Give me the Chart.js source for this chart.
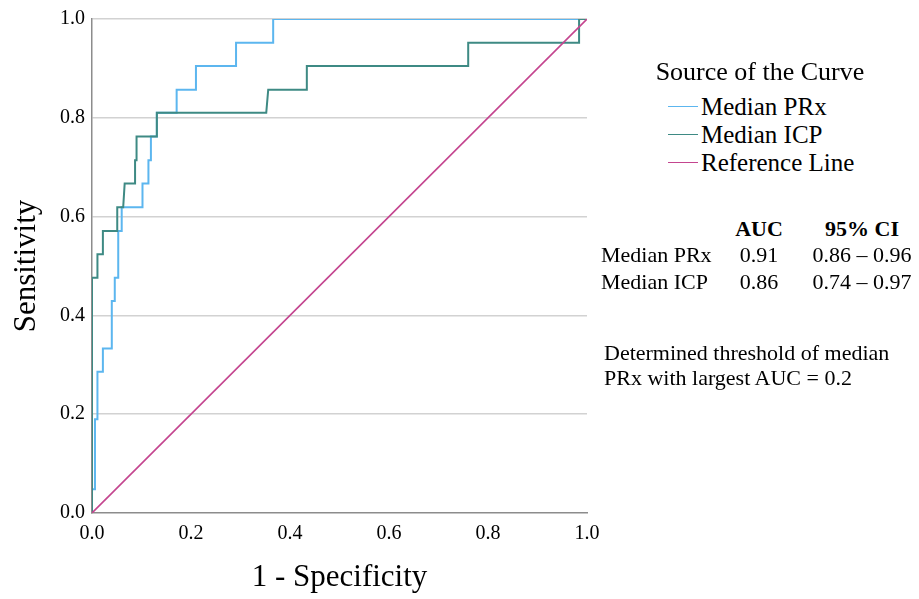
<!DOCTYPE html>
<html>
<head>
<meta charset="utf-8">
<script src="https://cdn.jsdelivr.net/npm/chart.js@4"></script>
<style>
  body { margin: 0; background: #fff; font-family: 'Liberation Serif', 'Times New Roman', serif; color: #000; }
  #wrap { position: relative; width: 919px; height: 599px; overflow: hidden; }
  #roc { position: absolute; left: 0; top: 0; }
  .txt { position: absolute; white-space: nowrap; }
  .legend-title { left: 560px; width: 400px; top: 57px; font-size: 26px; line-height: 30px; text-align: center; }
  .legend-item { left: 668px; font-size: 25px; line-height: 28px; }
  .legend-item span.swatch { display: inline-block; width: 30px; height: 0; vertical-align: middle; margin-right: 3px; position: relative; top: -3px; }
  .tbl { font-size: 22px; line-height: 27px; }
  .tbl.bold { font-weight: bold; }
  .note { left: 604px; font-size: 22px; line-height: 25px; }
</style>
</head>
<body>
<div id="wrap">
  <canvas id="roc" width="620" height="599"></canvas>
  <div id="legend"></div>
  <div id="stats"></div>
</div>
<script>
// ROC corner points (1 - specificity, sensitivity)
const prxFpr = [0, 0, 0.006, 0.006, 0.011, 0.011, 0.022, 0.022, 0.040, 0.040, 0.046, 0.046, 0.053, 0.053, 0.060, 0.060,
  0.102, 0.102, 0.114, 0.114, 0.119, 0.119, 0.131, 0.131, 0.171, 0.171, 0.210, 0.210, 0.291, 0.291, 0.366, 0.366, 1];
const prxTpr = [0, 0.048, 0.048, 0.190, 0.190, 0.286, 0.286, 0.333, 0.333, 0.429, 0.429, 0.476, 0.476, 0.571, 0.571, 0.619,
  0.619, 0.667, 0.667, 0.714, 0.714, 0.762, 0.762, 0.810, 0.810, 0.857, 0.857, 0.905, 0.905, 0.952, 0.952, 1, 1];

const icpFpr = [0, 0, 0.011, 0.011, 0.022, 0.022, 0.051, 0.051, 0.063, 0.066, 0.087, 0.087, 0.090, 0.090, 0.131, 0.131,
  0.352, 0.356, 0.434, 0.434, 0.760, 0.760, 0.984, 0.984, 1];
const icpTpr = [0, 0.476, 0.476, 0.524, 0.524, 0.571, 0.571, 0.619, 0.619, 0.667, 0.667, 0.714, 0.714, 0.762, 0.762, 0.810,
  0.810, 0.857, 0.857, 0.905, 0.905, 0.952, 0.952, 1, 1];

const refFpr = [0, 1];
const refTpr = [0, 1];

const tickValues = [0, 0.2, 0.4, 0.6, 0.8, 1.0];

const seriesNames = ['Median PRx', 'Median ICP', 'Reference Line'];
const seriesColors = ['#5cb6ef', '#3e8a84', '#c4458f'];

const statHeader = ['AUC', '95% CI'];
const statRows = [
  ['Median PRx', '0.91', '0.86 \u2013 0.96'],
  ['Median ICP', '0.86', '0.74 \u2013 0.97']
];
const noteLines = ['Determined threshold of median', 'PRx with largest AUC = 0.2'];

function toPoints(xs, ys) {
  return xs.map((x, i) => ({ x: x, y: ys[i] }));
}

Chart.defaults.font.family = "'Liberation Serif', 'Times New Roman', serif";
Chart.defaults.color = '#000';

const ctx = document.getElementById('roc').getContext('2d');
const chart = new Chart(ctx, {
  type: 'scatter',
  data: {
    datasets: [
      { label: seriesNames[0], data: toPoints(prxFpr, prxTpr), borderColor: seriesColors[0], borderWidth: 2, order: 3 },
      { label: seriesNames[1], data: toPoints(icpFpr, icpTpr), borderColor: seriesColors[1], borderWidth: 2, order: 2 },
      { label: seriesNames[2], data: toPoints(refFpr, refTpr), borderColor: seriesColors[2], borderWidth: 1.6, order: 1 }
    ].map(d => Object.assign(d, { showLine: true, pointRadius: 0, tension: 0, fill: false }))
  },
  options: {
    responsive: false,
    animation: false,
    layout: { padding: { left: 0, right: 33, top: 17, bottom: 0 } },
    plugins: { legend: { display: false }, tooltip: { enabled: false } },
    scales: {
      x: {
        type: 'linear', min: 0, max: 1,
        afterBuildTicks: s => { s.ticks = tickValues.map(v => ({ value: v })); },
        afterFit: s => { s.height = 86; },
        grid: { display: false, drawTicks: false },
        border: { display: true, color: '#8c8c8c', width: 1.5 },
        ticks: { padding: 9, font: { size: 20 }, callback: v => v.toFixed(1), maxRotation: 0 },
        title: { display: true, text: '1 - Specificity', font: { size: 31 }, padding: { top: 0, bottom: 3 } }
      },
      y: {
        type: 'linear', min: 0, max: 1,
        afterBuildTicks: s => { s.ticks = tickValues.map(v => ({ value: v })); },
        afterFit: s => { s.width = 92; },
        grid: { color: ctx => ctx.tick.value === 0 ? 'rgba(0,0,0,0)' : '#d2d2d2', lineWidth: 1.5, drawTicks: false },
        border: { display: true, color: '#8c8c8c', width: 1.5 },
        ticks: { padding: 7, font: { size: 20 }, callback: v => v.toFixed(1) },
        title: { display: true, text: 'Sensitivity', font: { size: 31 }, padding: { top: 8, bottom: 0 } }
      }
    }
  }
});

// legend built from the chart's datasets
const legend = document.getElementById('legend');
let html = '<div class="txt legend-title">Source of the Curve</div>';
chart.data.datasets.forEach((d, i) => {
  html += '<div class="txt legend-item" style="top:' + (93 + i * 28) + 'px"><span class="swatch" style="border-top:1.6px solid ' +
    d.borderColor + '"></span>' + d.label + '</div>';
});
legend.innerHTML = html;

// AUC table and threshold note
const stats = document.getElementById('stats');
let s = '';
s += '<div class="txt tbl bold" style="top:215px;left:719px;width:80px;text-align:center">' + statHeader[0] + '</div>';
s += '<div class="txt tbl bold" style="top:215px;left:792px;width:140px;text-align:center">' + statHeader[1] + '</div>';
statRows.forEach((r, i) => {
  const top = 241 + i * 27;
  s += '<div class="txt tbl" style="top:' + top + 'px;left:601px">' + r[0] + '</div>';
  s += '<div class="txt tbl" style="top:' + top + 'px;left:719px;width:80px;text-align:center">' + r[1] + '</div>';
  s += '<div class="txt tbl" style="top:' + top + 'px;left:792px;width:140px;text-align:center">' + r[2] + '</div>';
});
noteLines.forEach((t, i) => {
  s += '<div class="txt note" style="top:' + (340 + i * 25) + 'px">' + t + '</div>';
});
stats.innerHTML = s;
</script>
</body>
</html>
